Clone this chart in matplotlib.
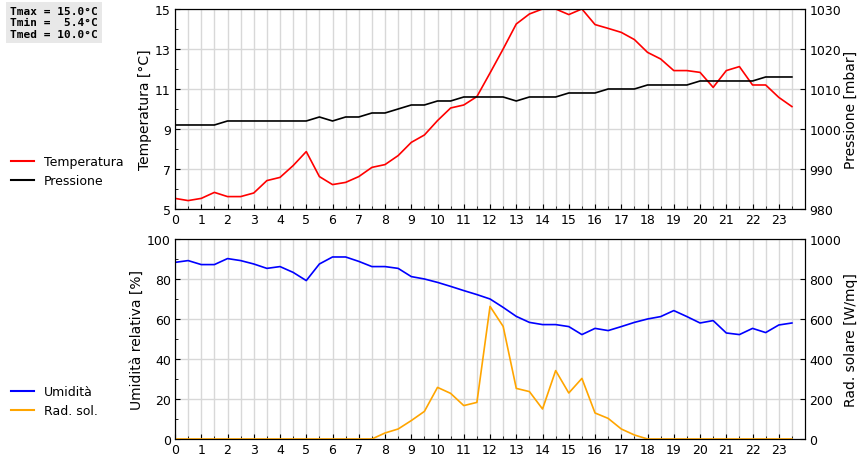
import numpy as np
import matplotlib.pyplot as plt
from matplotlib.lines import Line2D

ore = np.arange(48) * 0.5

temperatura = [5.53, 5.42, 5.53, 5.83, 5.62, 5.62, 5.8, 6.42, 6.58, 7.17, 7.87, 6.62,
               6.22, 6.33, 6.62, 7.08, 7.22, 7.67, 8.33, 8.7, 9.42, 10.05, 10.2, 10.62,
               11.8, 13.0, 14.25, 14.75, 15.0, 15.0, 14.72, 15.0, 14.22, 14.03, 13.83, 13.47,
               12.83, 12.5, 11.92, 11.92, 11.83, 11.08, 11.92, 12.12, 11.2, 11.2, 10.58, 10.12]
pressione = [1001, 1001, 1001, 1001, 1002, 1002, 1002, 1002, 1002, 1002, 1002, 1003,
             1002, 1003, 1003, 1004, 1004, 1005, 1006, 1006, 1007, 1007, 1008, 1008,
             1008, 1008, 1007, 1008, 1008, 1008, 1009, 1009, 1009, 1010, 1010, 1010,
             1011, 1011, 1011, 1011, 1012, 1012, 1012, 1012, 1012, 1013, 1013, 1013]
umidita = [88.3, 89.2, 87.2, 87.2, 90.2, 89.2, 87.5, 85.3, 86.2, 83.3, 79.2, 87.5,
           91, 91, 88.8, 86.2, 86.2, 85.3, 81.2, 80, 78.3, 76.3, 74.2, 72.2,
           70, 65.8, 61.3, 58.3, 57.2, 57.2, 56.2, 52.2, 55.3, 54.2, 56.2, 58.3,
           60, 61.2, 64.2, 61.2, 58, 59.2, 53, 52.2, 55.3, 53.2, 57, 58]
radsol = [0] * 16 + [30, 50, 92, 138, 258, 228, 167, 183,
                     663, 563, 253, 237, 150, 342, 230, 303, 130, 103, 50, 20] + [0] * 12

fig = plt.figure(figsize=(8.6, 4.6), dpi=100)
ax1 = fig.add_axes([0.2035, 0.5435, 0.7326, 0.4348])
ax2 = fig.add_axes([0.2035, 0.0435, 0.7326, 0.4348])

def stile(ax, yticks):
    ax.set_xlim(0, 24)
    ax.set_xticks(range(24))
    ax.set_xticks(np.arange(0, 24, 0.5), minor=True)
    ax.set_yticks(yticks)
    ax.grid(True, which='both', axis='x', color='#d8d8d8', lw=1)
    ax.grid(True, which='major', axis='y', color='#d8d8d8', lw=1)
    ax.tick_params(direction='in', labelsize=9, which='both', pad=3)
    ax.set_axisbelow(True)

ax1.plot(ore, temperatura, color='red', lw=1.2)
ax1.set_ylim(5, 15)
stile(ax1, [5, 7, 9, 11, 13, 15])
ax1.set_yticks(np.arange(5, 15, 1), minor=True)
ax1.set_ylabel('Temperatura [°C]', fontsize=10, labelpad=2)
ax1b = ax1.twinx()
ax1b.plot(ore, pressione, color='black', lw=1.2)
ax1b.set_ylim(980, 1030)
ax1b.set_yticks(range(980, 1031, 10))
ax1b.tick_params(direction='in', labelsize=9, pad=3)
ax1b.set_ylabel('Pressione [mbar]', fontsize=10, labelpad=2)

ax2.plot(ore, umidita, color='blue', lw=1.2)
ax2.set_ylim(0, 100)
stile(ax2, range(0, 101, 20))
ax2.set_yticks(range(0, 100, 10), minor=True)
ax2.set_ylabel('Umidità relativa [%]', fontsize=10, labelpad=2)
ax2b = ax2.twinx()
ax2b.plot(ore, radsol, color='orange', lw=1.2)
ax2b.set_ylim(0, 1000)
ax2b.set_yticks(range(0, 1001, 200))
ax2b.tick_params(direction='in', labelsize=9, pad=3)
ax2b.set_ylabel('Rad. solare [W/mq]', fontsize=10, labelpad=2)

fig.legend([Line2D([], [], color='red'), Line2D([], [], color='black')],
           ['Temperatura', 'Pressione'], loc='upper left',
           bbox_to_anchor=(0.0, 0.685), frameon=False, fontsize=9, handlelength=1.8)
fig.legend([Line2D([], [], color='blue'), Line2D([], [], color='orange')],
           ['Umidità', 'Rad. sol.'], loc='upper left',
           bbox_to_anchor=(0.0, 0.185), frameon=False, fontsize=9, handlelength=1.8)

fig.text(0.012, 0.985, 'Tmax = 15.0°C\nTmin =  5.4°C\nTmed = 10.0°C',
         family='DejaVu Sans Mono', fontsize=8, weight='bold', va='top',
         bbox=dict(facecolor='#e8e8e8', edgecolor='none', pad=3))

fig.savefig('out.png', dpi=100)
